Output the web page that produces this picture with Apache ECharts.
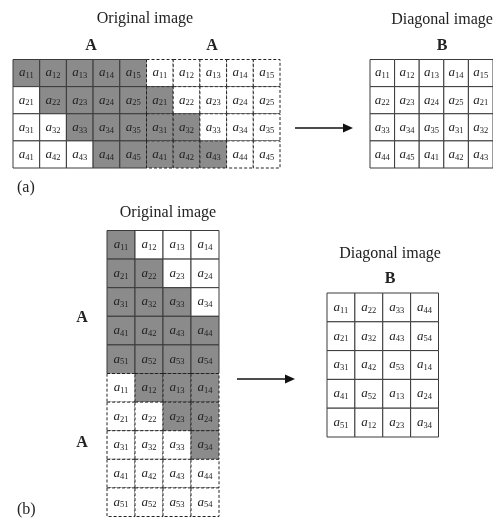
<!DOCTYPE html>
<html><head><meta charset="utf-8">
<script src="https://cdn.jsdelivr.net/npm/echarts@6/dist/echarts.min.js"></script>
<style>html,body{margin:0;padding:0;background:#fff}#c{width:493px;height:519px}</style>
</head><body><div id="c"></div>
<script>
// ---- data ----
const aLabels = [['11','12','13','14','15'],['21','22','23','24','25'],['31','32','33','34','35'],['41','42','43','44','45']];
const aShade1 = [[1,1,1,1,1],[0,1,1,1,1],[0,0,1,1,1],[0,0,0,1,1]];
const aShade2 = [[0,0,0,0,0],[1,0,0,0,0],[1,1,0,0,0],[1,1,1,0,0]];
const aDiag   = [['11','12','13','14','15'],['22','23','24','25','21'],['33','34','35','31','32'],['44','45','41','42','43']];
const bLabels = [['11','12','13','14'],['21','22','23','24'],['31','32','33','34'],['41','42','43','44'],['51','52','53','54']];
const bShade1 = [[1,0,0,0],[1,1,0,0],[1,1,1,0],[1,1,1,1],[1,1,1,1]];
const bShade2 = [[0,1,1,1],[0,0,1,1],[0,0,0,1],[0,0,0,0],[0,0,0,0]];
const bDiag   = [['11','22','33','44'],['21','32','43','54'],['31','42','53','14'],['41','52','13','24'],['51','12','23','34']];

const GRAY = '#8b8b8b';
const SERIF = '"Liberation Serif","DejaVu Serif",serif';

function cells(labels, shade){
  const d=[];
  labels.forEach((row,r)=>row.forEach((lab,c)=>d.push([c,r,shade?shade[r][c]:0,lab])));
  return d;
}
const blocks = [
  {grid:{left:13,top:59.5,width:133.5,height:108.5}, labels:aLabels, shade:aShade1, dashed:false},
  {grid:{left:146.5,top:59.5,width:133.5,height:108.5}, labels:aLabels, shade:aShade2, dashed:true},
  {grid:{left:370,top:59.5,width:133.5,height:108.5}, labels:aDiag, shade:null, dashed:false},
  {grid:{left:107,top:230.5,width:112,height:143}, labels:bLabels, shade:bShade1, dashed:false},
  {grid:{left:107,top:373.5,width:112,height:143}, labels:bLabels, shade:bShade2, dashed:true},
  {grid:{left:327,top:293,width:111.5,height:144}, labels:bDiag, shade:null, dashed:false}
];

const grid=[], xAxis=[], yAxis=[], series=[];
blocks.forEach((b,i)=>{
  const nc=b.labels[0].length, nr=b.labels.length;
  const data=cells(b.labels,b.shade);
  grid.push(Object.assign({containLabel:false}, b.grid));
  xAxis.push({type:'category', gridIndex:i, show:false, data:[...Array(nc).keys()].map(String)});
  yAxis.push({type:'category', gridIndex:i, show:false, inverse:true, data:[...Array(nr).keys()].map(String)});
  series.push({
    type:'custom', xAxisIndex:i, yAxisIndex:i, silent:true, animation:false,
    data:data,
    renderItem:function(params, api){
      const p=api.coord([api.value(0),api.value(1)]);
      const s=api.size([1,1]);
      const lab=data[params.dataIndex][3];
      const sh=api.value(2);
      return {type:'group', children:[
        {type:'rect', shape:{x:p[0]-s[0]/2,y:p[1]-s[1]/2,width:s[0],height:s[1]},
         style:{fill:sh?GRAY:'#fff', stroke:b.dashed?'#222':'#3a3a3a', lineWidth:1, lineDash:b.dashed?[3,2]:null}},
        {type:'text', x:p[0], y:p[1],
         style:{text:'{a|a}{s|'+lab+'}', align:'center', verticalAlign:'middle',
           rich:{a:{fontFamily:SERIF,fontStyle:'italic',fontSize:13,fill:'#222',lineHeight:16,verticalAlign:'middle'},
                 s:{fontFamily:SERIF,fontSize:8.5,fill:'#222',lineHeight:16,padding:[6,0,0,0],verticalAlign:'middle'}}}}
      ]};
    }
  });
});

const t=(text,x,y,size,bold)=>({text:text,left:x,top:y,textAlign:'center',
  textStyle:{fontFamily:SERIF,fontSize:size,fontWeight:bold?'bold':'normal',color:'#222'}});
const title=[
  t('Original image',140,6,16), t('A',86,33,16,true), t('A',207,33,16,true),
  t('Diagonal image',437,7,16), t('B',437,33,16,true),
  {text:'(a)',left:12,top:175,textStyle:{fontFamily:SERIF,fontSize:16,fontWeight:'normal',color:'#222'}},
  t('Original image',163,200,16), t('A',77,305,16,true), t('A',77,430,16,true),
  t('Diagonal image',385,241,16), t('B',385,266,16,true),
  {text:'(b)',left:12,top:497,textStyle:{fontFamily:SERIF,fontSize:16,fontWeight:'normal',color:'#222'}}
];

const arrow=(x1,x2,y)=>[
  {type:'line',shape:{x1:x1,y1:y,x2:x2-8,y2:y},style:{stroke:'#111',lineWidth:1.6}},
  {type:'polygon',shape:{points:[[x2,y],[x2-10,y-4.5],[x2-10,y+4.5]]},style:{fill:'#111'}}
];
const graphic=[].concat(arrow(295,353,128), arrow(237,295,379));

const chart=echarts.init(document.getElementById('c'),null,{renderer:'canvas'});
chart.setOption({animation:false, title, grid, xAxis, yAxis, series, graphic});
</script></body></html>
